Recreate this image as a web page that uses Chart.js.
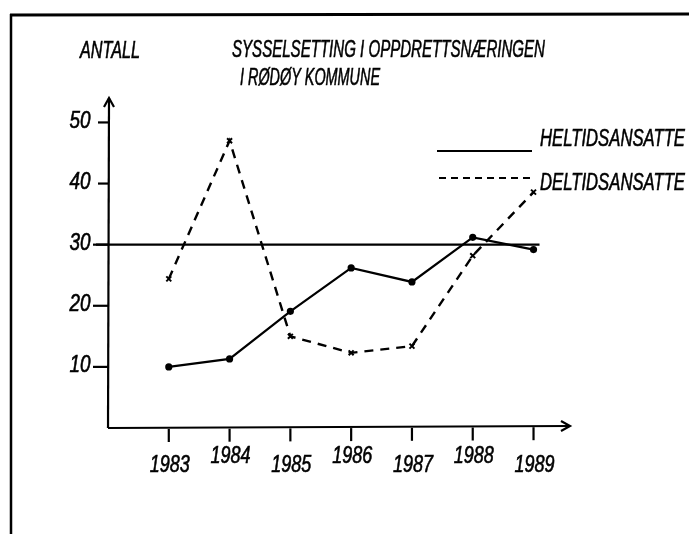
<!DOCTYPE html>
<html>
<head>
<meta charset="utf-8">
<script src="https://cdn.jsdelivr.net/npm/chart.js@4"></script>
<style>
html,body{margin:0;padding:0;background:#fff;}
#wrap{width:689px;height:534px;position:relative;}
</style>
</head>
<body>
<div id="wrap"><canvas id="c" width="689" height="534"></canvas></div>
<script>
// ---- data ----
const years = [1983, 1984, 1985, 1986, 1987, 1988, 1989];
const heltid = [10, 11.3, 19.1, 26.2, 23.9, 31.2, 29.2];
const deltid = [24.4, 47, 15, 12.3, 13.4, 28.2, 38.6];
const yTicks = [10, 20, 30, 40, 50];
const refLine = 30;
const seriesNames = ['HELTIDSANSATTE', 'DELTIDSANSATTE'];
const titleLines = ['SYSSELSETTING I OPPDRETTSNÆRINGEN', 'I RØDØY KOMMUNE'];
const yAxisTitle = 'ANTALL';

const FAMILY = '"Liberation Sans", Arial, sans-serif';
const FONT = 'italic 23px ' + FAMILY;
const FONT_NUM = 'italic 23px ' + FAMILY;

function txt(ctx, s, x, y, w) {
  ctx.fillText(s, x, y, w);
  ctx.strokeText(s, x, y, w);
}

const decor = {
  id: 'decor',
  beforeDatasetsDraw(chart) {
    const ctx = chart.ctx;
    const xs = chart.scales.x, ys = chart.scales.y;
    const ca = chart.chartArea;
    ctx.save();
    ctx.strokeStyle = '#000';
    ctx.fillStyle = '#000';
    ctx.lineCap = 'butt';
    // frame
    ctx.lineWidth = 3;
    ctx.beginPath(); ctx.moveTo(10, 15); ctx.lineTo(689, 14); ctx.stroke();
    ctx.lineWidth = 2.5;
    ctx.beginPath(); ctx.moveTo(11, 14); ctx.lineTo(11, 534); ctx.stroke();
    // axes
    const y0 = ys.getPixelForValue(0);
    ctx.lineWidth = 2.2;
    ctx.beginPath(); ctx.moveTo(ca.left, y0); ctx.lineTo(ca.left + 1, ca.top); ctx.stroke();
    ctx.beginPath(); ctx.moveTo(ca.left, y0); ctx.lineTo(ca.right, y0 - 2); ctx.stroke();
    // arrow heads
    ctx.beginPath();
    ctx.moveTo(ca.left - 4, ca.top + 9); ctx.lineTo(ca.left + 1, ca.top); ctx.lineTo(ca.left + 6, ca.top + 9);
    ctx.stroke();
    ctx.beginPath();
    ctx.moveTo(ca.right - 9, y0 - 7); ctx.lineTo(ca.right, y0 - 2); ctx.lineTo(ca.right - 9, y0 + 3);
    ctx.stroke();
    // y ticks
    yTicks.forEach(v => {
      const py = ys.getPixelForValue(v);
      ctx.beginPath(); ctx.moveTo(ca.left - (v >= 40 ? 10 : 15), py); ctx.lineTo(ca.left, py); ctx.stroke();
    });
    // x ticks
    years.forEach((yr, i) => {
      const px = xs.getPixelForValue(yr);
      ctx.beginPath(); ctx.moveTo(px, y0 + 1 - i * 0.3); ctx.lineTo(px, y0 + 14 - i * 0.3); ctx.stroke();
    });
    // reference line
    const pr = ys.getPixelForValue(refLine);
    ctx.lineWidth = 2.2;
    ctx.beginPath(); ctx.moveTo(ca.left - 12, pr); ctx.lineTo(xs.getPixelForValue(years[years.length - 1]) + 6, pr); ctx.stroke();

    // text
    ctx.lineWidth = 0.6;
    ctx.font = FONT;
    ctx.textBaseline = 'middle';
    ctx.textAlign = 'left';
    txt(ctx, yAxisTitle, 80, 52, 60);
    txt(ctx, titleLines[0], 232, 51, 313);
    txt(ctx, titleLines[1], 240, 79, 140);
    // y labels
    ctx.font = FONT_NUM;
    ctx.textAlign = 'center';
    yTicks.forEach(v => {
      const py = ys.getPixelForValue(v);
      txt(ctx, String(v), 80, py - 1, 21);
    });
    // x labels (staggered)
    years.forEach((yr, i) => {
      const px = xs.getPixelForValue(yr);
      txt(ctx, String(yr), px + 1, y0 + (i % 2 === 0 ? 38 : 29), 40);
    });
    // legend
    ctx.font = FONT;
    ctx.textAlign = 'left';
    ctx.lineWidth = 2;
    ctx.beginPath(); ctx.moveTo(437, 151); ctx.lineTo(532, 151); ctx.stroke();
    ctx.setLineDash([7, 5]);
    ctx.beginPath(); ctx.moveTo(439, 178); ctx.lineTo(530, 178); ctx.stroke();
    ctx.setLineDash([]);
    ctx.lineWidth = 0.6;
    txt(ctx, seriesNames[0], 540, 140, 145);
    txt(ctx, seriesNames[1], 540, 184, 145);
    ctx.restore();
  }
};

new Chart(document.getElementById('c'), {
  type: 'line',
  data: {
    datasets: [
      {
        label: seriesNames[0],
        data: years.map((y, i) => ({x: y, y: heltid[i]})),
        borderColor: '#000', backgroundColor: '#000',
        borderWidth: 2.2, pointRadius: 2.5, pointStyle: 'circle', tension: 0
      },
      {
        label: seriesNames[1],
        data: years.map((y, i) => ({x: y, y: deltid[i]})),
        borderColor: '#000', backgroundColor: '#000',
        borderWidth: 2.4, borderDash: [9, 7], pointRadius: 3.5, pointStyle: 'crossRot',
        pointBorderWidth: 2, tension: 0
      }
    ]
  },
  options: {
    responsive: false,
    animation: false,
    devicePixelRatio: 1,
    layout: { padding: { left: 108, right: 119, top: 98, bottom: 106 } },
    plugins: { legend: { display: false }, tooltip: { enabled: false }, title: { display: false } },
    scales: {
      x: { type: 'linear', min: 1982, max: 1989.6, display: false },
      y: { min: 0, max: 54, display: false }
    }
  },
  plugins: [decor]
});
</script>
</body>
</html>
